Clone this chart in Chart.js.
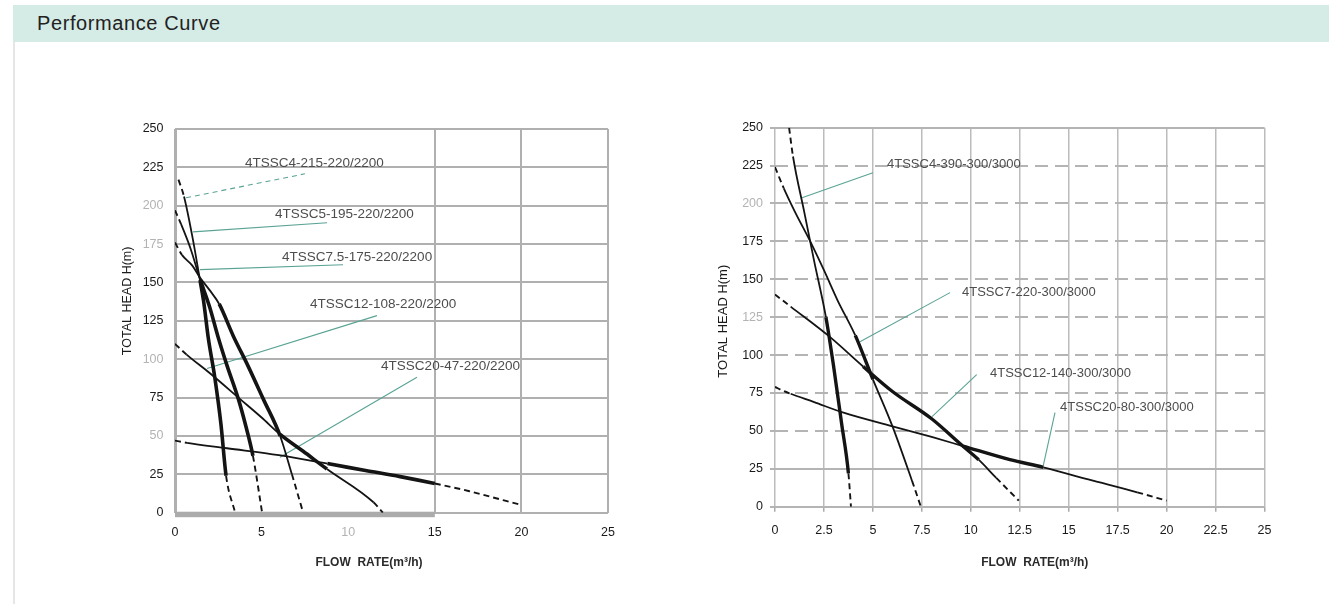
<!DOCTYPE html>
<html>
<head>
<meta charset="utf-8">
<title>Performance Curve</title>
<script src="https://cdn.jsdelivr.net/npm/chart.js@4.4.1/dist/chart.umd.min.js"></script>
<style>
    html, body { margin: 0; padding: 0; background: #fff; }
    body { width: 1329px; height: 604px; position: relative; overflow: hidden; font-family: "Liberation Sans", Arial, sans-serif; }
    .title-bar { position: absolute; left: 13px; top: 5px; right: 0; height: 37px; line-height: 37px; padding-left: 24px; background: #d5ebe5; color: #222; font-size: 20px; letter-spacing: 0.6px; }
    .frame { position: absolute; left: 13px; top: 42px; bottom: 0; width: 2px; background: #e6e6e6; }
    canvas { position: absolute; }
    #leftChart { left: 100px; top: 110px; }
    #rightChart { left: 690px; top: 110px; }
</style>
</head>
<body>
<div class="title-bar">Performance Curve</div>
<div class="frame"></div>
<canvas id="leftChart" width="540" height="480"></canvas>
<canvas id="rightChart" width="620" height="480"></canvas>
<script>
// tick values
const headTicks = [0, 25, 50, 75, 100, 125, 150, 175, 200, 225, 250];
const leftFlowTicks = [0, 5, 10, 15, 20, 25];
const rightFlowTicks = [0, 2.5, 5, 7.5, 10, 12.5, 15, 17.5, 20, 22.5, 25];

// left chart: 220V / 2200W models (flow m3/h, head m)
const leftModels = ['4TSSC4-215-220/2200', '4TSSC5-195-220/2200', '4TSSC7.5-175-220/2200', '4TSSC12-108-220/2200', '4TSSC20-47-220/2200'];
const q4_215 = [0.2, 0.52, 1.0, 1.45, 1.65, 1.92, 2.3, 2.65, 2.95, 3.47];
const h4_215 = [217, 206, 180, 151, 138, 114, 88, 58, 24, 0];
const q5_195 = [0, 0.35, 0.9, 1.45, 2.0, 2.5, 3.0, 3.66, 4.1, 4.5, 5.03];
const h5_195 = [197, 188, 172, 152, 134, 114, 96, 74, 56, 37, 0];
const q75_175 = [0, 0.4, 1.0, 1.45, 2.0, 2.55, 3.37, 4.2, 5.1, 6.07, 6.75, 7.4];
const h75_175 = [176, 168, 161, 153, 145, 136, 115, 96, 74, 50, 25, 0];
const q12_108 = [0, 0.67, 2, 3.76, 5, 6.07, 7.4, 8.77, 11.46, 12];
const h12_108 = [110, 103, 91, 74, 62, 51, 40, 28.5, 6.8, 0];
const q20_47 = [0, 0.7, 3, 6, 8.8, 11, 13, 15, 17, 19, 20];
const h20_47 = [47, 45.5, 42, 37.5, 32, 27.5, 23.5, 19, 14, 8, 5];
const leftLabelQ = [4.04, 5.77, 6.18, 7.79, 11.9];
const leftLabelH = [227.9, 194.6, 166.2, 135.6, 95.4];
const leftLeaderQ = [[0.64, 7.5], [1.04, 8.78], [1.44, 9.7], [1.85, 11.66], [6.06, 13.97]];
const leftLeaderH = [[205.2, 220.8], [183.0, 188.9], [158.4, 161.6], [94.0, 128.4], [36.1, 88.2]];
const leftBaseBar = [0, 15];

// right chart: 300V / 3000W models
const rightModels = ['4TSSC4-390-300/3000', '4TSSC7-220-300/3000', '4TSSC12-140-300/3000', '4TSSC20-80-300/3000'];
const q4_390 = [0.72, 0.92, 1.5, 2.0, 2.6, 3.0, 3.4, 3.75, 3.88];
const h4_390 = [250, 231, 194, 162, 125, 92, 55, 22, 0];
const q7_220 = [0, 0.45, 1.0, 1.8, 2.5, 3.2, 4.1, 5.0, 6.0, 7.0, 7.45];
const h7_220 = [224, 210, 195, 175, 156, 136, 113, 84, 53, 17, 0];
const q12_140 = [0, 0.8, 2.8, 4.5, 6, 8, 9.5, 10.4, 11.3, 12.45];
const h12_140 = [140, 132, 112, 92.5, 76, 58, 41, 31, 19, 4];
const q20_80 = [0, 0.4, 0.8, 2, 3.5, 6, 8, 9.6, 12, 13.7, 16, 18.5, 20];
const h20_80 = [79, 76.5, 74.5, 69, 62, 53, 46, 40, 31, 26, 18, 9.5, 4];
const rightLabelQ = [5.72, 9.55, 10.98, 14.56];
const rightLabelH = [225.6, 141.2, 87.7, 65.3];
const rightLeaderQ = [[1.38, 5.0], [4.34, 8.94], [8.02, 10.3], [13.69, 14.3]];
const rightLeaderH = [[203.8, 220.3], [108.8, 141.2], [59.4, 87.1], [26.4, 62]];

// which segments are dashed (head/tail count) and drawn thick (point index range)
const leftStyles = [
    { head: 1, tail: 1, thick: [3, 8] },
    { head: 1, tail: 1, thick: [3, 9] },
    { head: 1, tail: 1, thick: [5, 9] },
    { head: 1, tail: 1, thick: [5, 7] },
    { head: 1, tail: 3, thick: [4, 7] },
];
const rightStyles = [
    { head: 1, tail: 1, thick: [4, 7] },
    { head: 1, tail: 1, thick: [6, 7] },
    { head: 1, tail: 1, thick: [3, 7] },
    { head: 2, tail: 1, thick: [7, 9] },
];

const FONT = '"Liberation Sans", Arial, sans-serif';
const TEAL = '#5aa394';

function curveDataset(q, h, style, w) {
    const n = q.length;
    const dashed = s => s.p0DataIndex < style.head || s.p0DataIndex >= n - 1 - style.tail;
    const thick = s => s.p0DataIndex >= style.thick[0] && s.p1DataIndex <= style.thick[1];
    return {
        data: q.map((x, i) => ({ x: x, y: h[i] })),
        borderColor: '#141414',
        borderWidth: w.thin,
        pointRadius: 0,
        tension: 0.4,
        cubicInterpolationMode: 'monotone',
        segment: {
            borderWidth: s => dashed(s) ? w.dash : (thick(s) ? w.thick : w.thin),
            borderDash: s => dashed(s) ? [6, 4] : undefined,
        },
    };
}

function leaderDataset(q, h, dashed) {
    return {
        data: [{ x: q[0], y: h[0] }, { x: q[1], y: h[1] }],
        borderColor: TEAL,
        borderWidth: 1.1,
        borderDash: dashed ? [5, 4] : [],
        pointRadius: 0,
        tension: 0,
    };
}

function annotate(spec) {
    return {
        id: 'annotate',
        beforeDatasetsDraw(chart) {
            if (!spec.baseBar) {
                return;
            }
            const { ctx, scales: { x, y } } = chart;
            const x0 = x.getPixelForValue(spec.baseBar[0]);
            const x1 = x.getPixelForValue(spec.baseBar[1]);
            ctx.save();
            ctx.fillStyle = '#ababab';
            ctx.fillRect(x0, y.getPixelForValue(0) - 1, x1 - x0, 5.5);
            ctx.restore();
        },
        afterDatasetsDraw(chart) {
            const { ctx, chartArea: a, scales: { x, y } } = chart;
            ctx.save();
            ctx.fillStyle = '#4d4d4d';
            ctx.font = spec.labelFont;
            ctx.textBaseline = 'middle';
            spec.names.forEach((name, i) => {
                ctx.fillText(name, x.getPixelForValue(spec.labelQ[i]), y.getPixelForValue(spec.labelH[i]));
            });
            ctx.fillStyle = '#2a2a2a';
            ctx.textAlign = 'center';
            ctx.font = 'bold 12px ' + FONT;
            ctx.fillText('FLOW  RATE(m\u00b3/h)', (a.left + a.right) / 2 + spec.xTitle[0], a.bottom + spec.xTitle[1]);
            ctx.translate(a.left + spec.yTitle[0], (a.top + a.bottom) / 2 + spec.yTitle[1]);
            ctx.rotate(-Math.PI / 2);
            ctx.fillStyle = '#1a1a1a';
            ctx.font = spec.yTitleFont;
            ctx.fillText('TOTAL HEAD H(m)', 0, 0);
            ctx.restore();
        },
    };
}

function tickValue(c) {
    return c.tick ? c.tick.value : null;
}

function buildLeft() {
    const w = { thin: 1.8, thick: 3.6, dash: 1.9 };
    const curves = [[q4_215, h4_215], [q5_195, h5_195], [q75_175, h75_175], [q12_108, h12_108], [q20_47, h20_47]];
    const datasets = curves.map((c, i) => curveDataset(c[0], c[1], leftStyles[i], w));
    leftLeaderQ.forEach((q, i) => datasets.push(leaderDataset(q, leftLeaderH[i], i === 0)));
    const fadedY = [200, 175, 100, 50];
    const fadedX = [10];

    new Chart(document.getElementById('leftChart'), {
        type: 'line',
        data: { datasets: datasets },
        options: {
            responsive: false,
            animation: false,
            events: [],
            layout: { padding: { left: 0, top: 18.3, right: 32, bottom: 0 } },
            plugins: { legend: { display: false }, tooltip: { enabled: false } },
            scales: {
                x: {
                    type: 'linear',
                    min: 0,
                    max: 25,
                    afterBuildTicks: s => { s.ticks = leftFlowTicks.map(v => ({ value: v })); },
                    afterFit: s => { s.height = 77.3; },
                    grid: {
                        drawTicks: false,
                        color: c => (tickValue(c) === 5 || tickValue(c) === 10) ? 'rgba(0,0,0,0)' : '#b0b0b0',
                        lineWidth: c => tickValue(c) === 0 ? 3 : 2,
                    },
                    border: { display: false },
                    ticks: {
                        padding: 12.5,
                        maxRotation: 0,
                        font: { family: FONT, size: 12.5 },
                        color: c => fadedX.includes(tickValue(c)) ? '#b3b3b3' : '#1a1a1a',
                    },
                },
                y: {
                    min: 0,
                    max: 250,
                    afterBuildTicks: s => { s.ticks = headTicks.map(v => ({ value: v })); },
                    afterFit: s => { s.width = 75; },
                    grid: { drawTicks: false, color: '#b0b0b0', lineWidth: 2 },
                    border: { display: false },
                    ticks: {
                        padding: 11.5,
                        font: { family: FONT, size: 12.5 },
                        color: c => fadedY.includes(tickValue(c)) ? '#b3b3b3' : '#1a1a1a',
                    },
                },
            },
        },
        plugins: [annotate({
            names: leftModels,
            labelQ: leftLabelQ,
            labelH: leftLabelH,
            labelFont: '13.5px ' + FONT,
            baseBar: leftBaseBar,
            xTitle: [-22.5, 50],
            yTitle: [-47, -20],
            yTitleFont: '12.5px ' + FONT,
        })],
    });
}

function buildRight() {
    const w = { thin: 1.8, thick: 3.4, dash: 1.9 };
    const curves = [[q4_390, h4_390], [q7_220, h7_220], [q12_140, h12_140], [q20_80, h20_80]];
    const datasets = curves.map((c, i) => curveDataset(c[0], c[1], rightStyles[i], w));
    rightLeaderQ.forEach((q, i) => datasets.push(leaderDataset(q, rightLeaderH[i], false)));
    const fadedY = [200, 125];

    new Chart(document.getElementById('rightChart'), {
        type: 'line',
        data: { datasets: datasets },
        options: {
            responsive: false,
            animation: false,
            events: [],
            layout: { padding: { left: 0, top: 17.7, right: 45.5, bottom: 0 } },
            plugins: { legend: { display: false }, tooltip: { enabled: false } },
            scales: {
                x: {
                    type: 'linear',
                    min: 0,
                    max: 25,
                    afterBuildTicks: s => { s.ticks = rightFlowTicks.map(v => ({ value: v })); },
                    afterFit: s => { s.height = 83.3; },
                    grid: { color: '#bcbcbc', lineWidth: 1.5, tickLength: 5, tickColor: '#aaaaaa' },
                    border: { display: false },
                    ticks: {
                        padding: 11.5,
                        maxRotation: 0,
                        font: { family: FONT, size: 12.5 },
                        color: '#1a1a1a',
                    },
                },
                y: {
                    min: 0,
                    max: 250,
                    afterBuildTicks: s => { s.ticks = headTicks.map(v => ({ value: v })); },
                    afterFit: s => { s.width = 85; },
                    grid: { color: '#b4b4b4', lineWidth: 2, tickLength: 5, tickColor: '#b4b4b4' },
                    border: {
                        display: false,
                        dash: c => {
                            const v = tickValue(c);
                            return (v !== null && v >= 50 && v <= 225) ? [13, 7] : [];
                        },
                    },
                    ticks: {
                        padding: 7,
                        font: { family: FONT, size: 12.5 },
                        color: c => fadedY.includes(tickValue(c)) ? '#b3b3b3' : '#1a1a1a',
                    },
                },
            },
        },
        plugins: [annotate({
            names: rightModels,
            labelQ: rightLabelQ,
            labelH: rightLabelH,
            labelFont: '13px ' + FONT,
            xTitle: [15, 56],
            yTitle: [-52, 4],
            yTitleFont: '13px ' + FONT,
        })],
    });
}

buildLeft();
buildRight();
</script>
</body>
</html>
